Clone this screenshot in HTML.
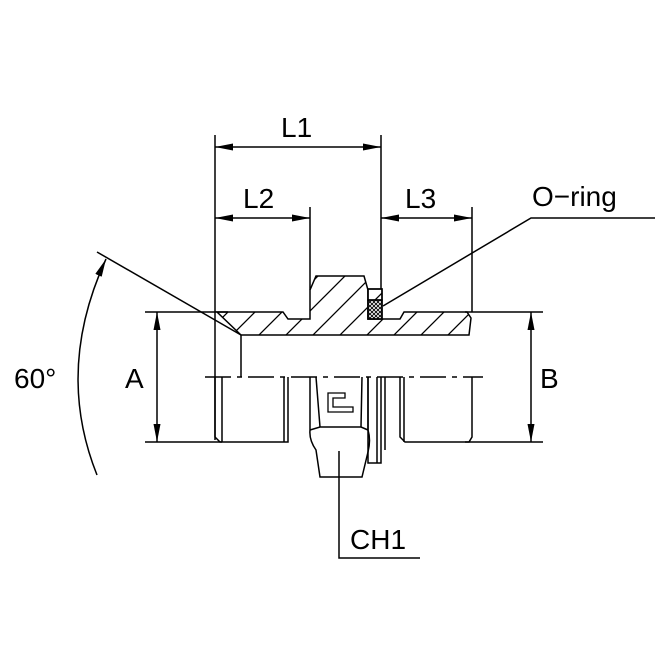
<!DOCTYPE html>
<html><head><meta charset="utf-8"><style>
html,body{margin:0;padding:0;background:#fff}
svg{display:block}
text{font-family:"Liberation Sans",sans-serif;font-size:28px;fill:#000}
</style></head><body>
<svg width="670" height="670" viewBox="0 0 670 670" xmlns="http://www.w3.org/2000/svg">
<defs>
<pattern id="h" patternUnits="userSpaceOnUse" width="27" height="27">
<path d="M-7,34 L34,-7 M-20,20 L20,-20 M7,47 L47,7" stroke="#000" stroke-width="1.3"/>
</pattern>
<pattern id="x" patternUnits="userSpaceOnUse" width="4" height="4">
<path d="M0,0L4,4M4,0L0,4" stroke="#000" stroke-width="0.9"/>
</pattern>
<marker id="a" viewBox="0 0 18 7" refX="18" refY="3.5" markerWidth="18" markerHeight="7" markerUnits="userSpaceOnUse" orient="auto-start-reverse"><path d="M0,0L18,3.5L0,7z"/></marker>
</defs>
<g stroke="#000" stroke-width="1.5" fill="none">
<line x1="215" y1="135" x2="215" y2="440"/>
<line x1="381" y1="135" x2="381" y2="290"/>
<line x1="310" y1="207" x2="310" y2="290"/>
<line x1="472" y1="207" x2="472" y2="312"/>
<line x1="215" y1="147" x2="381" y2="147" marker-start="url(#a)" marker-end="url(#a)"/>
<line x1="215" y1="218" x2="310" y2="218" marker-start="url(#a)" marker-end="url(#a)"/>
<line x1="381" y1="218" x2="472" y2="218" marker-start="url(#a)" marker-end="url(#a)"/>
<line x1="145" y1="312" x2="228" y2="312"/>
<line x1="145" y1="442" x2="222" y2="442"/>
<line x1="157" y1="312" x2="157" y2="442" marker-start="url(#a)" marker-end="url(#a)"/>
<line x1="465" y1="312" x2="543" y2="312"/>
<line x1="465" y1="442" x2="543" y2="442"/>
<line x1="531" y1="312" x2="531" y2="442" marker-start="url(#a)" marker-end="url(#a)"/>
<line x1="97" y1="252" x2="241" y2="335"/>
<path d="M97,475 Q55,370 106,259" marker-end="url(#a)"/>
<path d="M217,312 L283,312 L288,319 L310,319 L310,290 L316,276 L364,276 L368,290 L368,319 L400,319 L404,312 L467,312 L471,318 L469,335 L241,335 Z" fill="url(#h)"/>
<path d="M368,289 L382,289 L382,319 L368,319 Z" fill="#fff"/>
<path d="M368,289 L382,289 L382,300 L368,300 Z" fill="url(#h)"/>
<path d="M368,300 L382,300 L382,319 L368,319 Z" fill="url(#x)"/>
<line x1="241" y1="335" x2="241" y2="377"/>
<line x1="205" y1="377" x2="483" y2="377" stroke-dasharray="26,6,5,6"/>
<path d="M215,377 L215,437 L220,442 L288,442 L288,377"/>
<line x1="222" y1="377" x2="222" y2="442"/>
<line x1="284" y1="377" x2="284" y2="442"/>
<path d="M310,377 L310,430 Q309,440 316,450 L320,477 L362,477 L368,452 Q371,440 368,430 L368,377"/>
<path d="M310,430 L320,427 L361,427 L368,430"/>
<line x1="316" y1="377" x2="320" y2="427"/>
<line x1="362" y1="377" x2="361" y2="427"/>
<path d="M328,393 L345,393 L345,398 L333,398 L333,407 L353,407 L353,412 L328,412 Z" stroke-width="1.3"/>
<path d="M368,377 L368,463 L381,463 L381,377"/>
<line x1="377" y1="377" x2="377" y2="463"/>
<path d="M400,377 L400,437 L405,442 L469,442 L472,437 L472,377"/>
<line x1="404" y1="377" x2="404" y2="442"/>
<line x1="385" y1="377" x2="385" y2="450"/>
<polyline points="383,306 531,218 655,218"/>
<polyline points="339,451 339,558 420,558"/>
</g>
<text x="281" y="137">L1</text>
<text x="243" y="208">L2</text>
<text x="405" y="208">L3</text>
<text x="532" y="206">O−ring</text>
<text x="14" y="388">60°</text>
<text x="125" y="388">A</text>
<text x="540" y="388">B</text>
<text x="350" y="549">CH1</text>
</svg>
</body></html>
